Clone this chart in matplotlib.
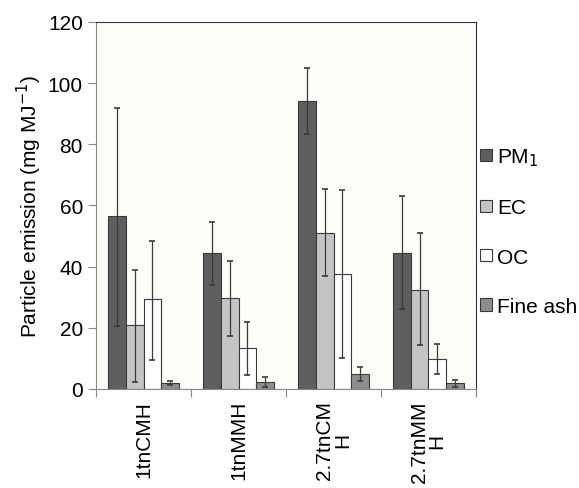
import matplotlib.pyplot as plt
import numpy as np

# --- data ---
categories = ['1tnCMH', '1tnMMH', '2.7tnCM\nH', '2.7tnMM\nH']
series = ['PM$_1$', 'EC', 'OC', 'Fine ash']

pm1 = [56.5, 44.3, 94.0, 44.5]
ec = [20.8, 29.8, 51.0, 32.5]
oc = [29.3, 13.5, 37.5, 9.8]
ash = [1.8, 2.2, 4.9, 1.8]

# error bar bounds (low, high)
pm1_lo = [20.5, 34.0, 83.4, 26.3]
pm1_hi = [92.0, 54.5, 105.0, 63.0]
ec_lo = [2.2, 17.3, 37.0, 14.5]
ec_hi = [39.0, 42.0, 65.4, 51.0]
oc_lo = [9.5, 4.7, 10.0, 5.0]
oc_hi = [48.5, 22.0, 65.0, 14.8]
ash_lo = [1.2, 0.8, 2.5, 0.8]
ash_hi = [2.5, 3.8, 7.3, 3.0]

colors = ['#5e5e5e', '#c4c4c4', '#ffffff', '#8e8e8e']

values = [pm1, ec, oc, ash]
lows = [pm1_lo, ec_lo, oc_lo, ash_lo]
highs = [pm1_hi, ec_hi, oc_hi, ash_hi]

plt.rcParams['font.family'] = ['Liberation Sans', 'DejaVu Sans']

fig = plt.figure(figsize=(5.79, 4.89), dpi=100)
ax = fig.add_axes([0.166, 0.2025, 0.656, 0.7505])
ax.set_facecolor('#fdfcf8')

x = np.arange(len(categories))
w = 0.185
for i, (name, v, lo, hi, c) in enumerate(zip(series, values, lows, highs, colors)):
    v = np.array(v)
    err = [v - np.array(lo), np.array(hi) - v]
    pos = x + (i - 1.5) * w
    ax.bar(pos, v, w, color=c, edgecolor='#3a3a3a', linewidth=0.8, label=name)
    ax.errorbar(pos, v, yerr=err, fmt='none', ecolor='#3a3a3a',
                elinewidth=0.9, capsize=2.5, capthick=1.2)

ax.set_xlim(-0.5, 3.5)
ax.set_ylim(0, 120)
ax.set_yticks(range(0, 121, 20))
ax.set_xticks(np.arange(-0.5, 4, 1))
ax.set_xticklabels([])
ax.set_xticks(x, minor=True)
ax.set_xticklabels(categories, minor=True, rotation=90, fontsize=15,
                   linespacing=0.9)
ax.tick_params(axis='x', which='minor', length=0, pad=8)
ax.tick_params(axis='x', which='major', length=6, color='#888888')
ax.tick_params(axis='y', labelsize=15, length=6, color='#888888')
for s in ['left', 'bottom']:
    ax.spines[s].set_color('#888888')
for s in ['top', 'right']:
    ax.spines[s].set_color('#333333')

ax.set_ylabel('Particle emission (mg MJ$^{-1}$)', fontsize=15, labelpad=3)

ax.legend(loc='center left', bbox_to_anchor=(0.99, 0.43), frameon=False,
          fontsize=15, handlelength=0.55, handleheight=0.55, handletextpad=0.25,
          labelspacing=1.45, borderaxespad=0)

fig.savefig('out.png', dpi=100)
